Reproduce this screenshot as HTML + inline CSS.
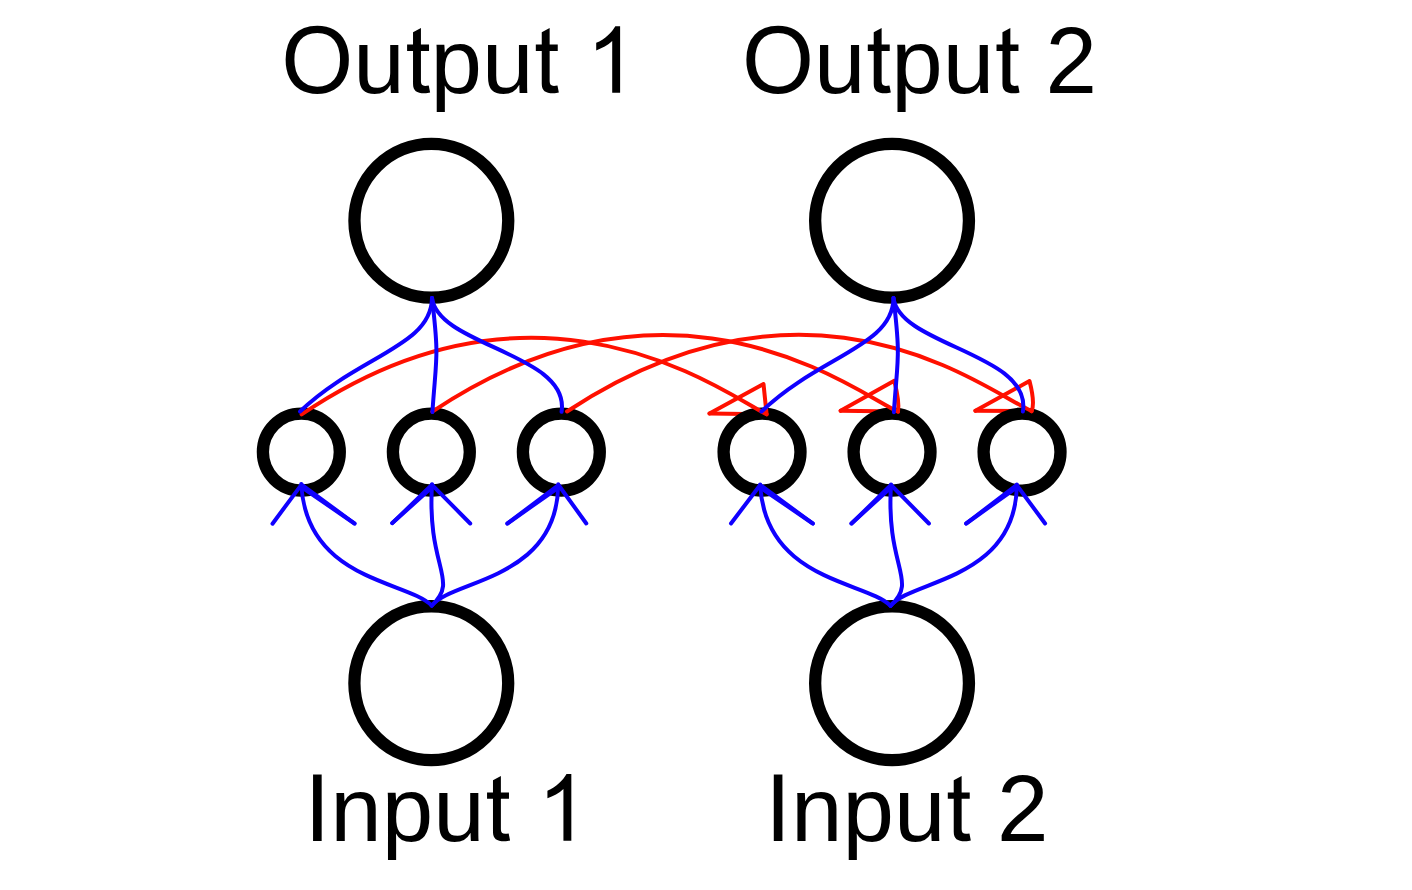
<!DOCTYPE html><html><head><meta charset="utf-8"><style>html,body{margin:0;padding:0;background:#fff;width:1412px;height:890px;overflow:hidden}svg{display:block}text{font-family:"Liberation Sans",sans-serif;fill:#000}</style></head><body>
<svg width="1412" height="890" viewBox="0 0 1412 890">
<rect width="1412" height="890" fill="#fff"/>
<g fill="#000">
<text transform="translate(281.20 92.80) scale(1 1.042)" font-size="92.6">O</text>
<text transform="translate(353.23 92.80) scale(1 0.985)" font-size="92.6">u</text>
<path transform="translate(404.73 92.80)" d="M8.3 -41.9L8.3 -9C8.3 -2 12 0.5 19.5 0.5C22 0.5 24 0.1 25.4 -0.3L24 -7.2C22.5 -7 21.5 -6.9 20.5 -6.9C17.5 -6.9 16.2 -8.5 16.2 -11.5L16.2 -41.9H24.3V-48.2H16.2V-64.8L8.3 -60.5V-48.2H2.37V-41.9Z"/>
<text transform="translate(430.45 92.80) scale(1 0.980)" font-size="92.6">p</text>
<text transform="translate(481.95 92.80) scale(1 0.985)" font-size="92.6">u</text>
<path transform="translate(533.45 92.80)" d="M8.3 -41.9L8.3 -9C8.3 -2 12 0.5 19.5 0.5C22 0.5 24 0.1 25.4 -0.3L24 -7.2C22.5 -7 21.5 -6.9 20.5 -6.9C17.5 -6.9 16.2 -8.5 16.2 -11.5L16.2 -41.9H24.3V-48.2H16.2V-64.8L8.3 -60.5V-48.2H2.37V-41.9Z"/>
<path transform="translate(584.91 92.80)" d="M27.3 0H35.2V-66.6H30.4C27 -60.5 20 -53.5 11.3 -50V-42.4C17 -44.5 23 -47.5 27.3 -51.7Z"/>
<text transform="translate(741.90 92.80) scale(1 1.042)" font-size="92.6">O</text>
<text transform="translate(813.93 92.80) scale(1 0.985)" font-size="92.6">u</text>
<path transform="translate(865.43 92.80)" d="M8.3 -41.9L8.3 -9C8.3 -2 12 0.5 19.5 0.5C22 0.5 24 0.1 25.4 -0.3L24 -7.2C22.5 -7 21.5 -6.9 20.5 -6.9C17.5 -6.9 16.2 -8.5 16.2 -11.5L16.2 -41.9H24.3V-48.2H16.2V-64.8L8.3 -60.5V-48.2H2.37V-41.9Z"/>
<text transform="translate(891.15 92.80) scale(1 0.980)" font-size="92.6">p</text>
<text transform="translate(942.65 92.80) scale(1 0.985)" font-size="92.6">u</text>
<path transform="translate(994.15 92.80)" d="M8.3 -41.9L8.3 -9C8.3 -2 12 0.5 19.5 0.5C22 0.5 24 0.1 25.4 -0.3L24 -7.2C22.5 -7 21.5 -6.9 20.5 -6.9C17.5 -6.9 16.2 -8.5 16.2 -11.5L16.2 -41.9H24.3V-48.2H16.2V-64.8L8.3 -60.5V-48.2H2.37V-41.9Z"/>
<text transform="translate(1045.61 92.80) scale(1 1.029)" font-size="92.6">2</text>
<text transform="translate(304.45 840.70) scale(1 1.047)" font-size="92.6">I</text>
<text transform="translate(330.18 840.70) scale(1 0.990)" font-size="92.6">n</text>
<text transform="translate(381.68 840.70) scale(1 0.980)" font-size="92.6">p</text>
<text transform="translate(433.18 840.70) scale(1 0.985)" font-size="92.6">u</text>
<path transform="translate(484.68 840.70)" d="M8.3 -41.9L8.3 -9C8.3 -2 12 0.5 19.5 0.5C22 0.5 24 0.1 25.4 -0.3L24 -7.2C22.5 -7 21.5 -6.9 20.5 -6.9C17.5 -6.9 16.2 -8.5 16.2 -11.5L16.2 -41.9H24.3V-48.2H16.2V-64.8L8.3 -60.5V-48.2H2.37V-41.9Z"/>
<path transform="translate(536.13 840.70)" d="M27.3 0H35.2V-66.6H30.4C27 -60.5 20 -53.5 11.3 -50V-42.4C17 -44.5 23 -47.5 27.3 -51.7Z"/>
<text transform="translate(765.20 840.70) scale(1 1.047)" font-size="92.6">I</text>
<text transform="translate(790.93 840.70) scale(1 0.990)" font-size="92.6">n</text>
<text transform="translate(842.43 840.70) scale(1 0.980)" font-size="92.6">p</text>
<text transform="translate(893.93 840.70) scale(1 0.985)" font-size="92.6">u</text>
<path transform="translate(945.43 840.70)" d="M8.3 -41.9L8.3 -9C8.3 -2 12 0.5 19.5 0.5C22 0.5 24 0.1 25.4 -0.3L24 -7.2C22.5 -7 21.5 -6.9 20.5 -6.9C17.5 -6.9 16.2 -8.5 16.2 -11.5L16.2 -41.9H24.3V-48.2H16.2V-64.8L8.3 -60.5V-48.2H2.37V-41.9Z"/>
<text transform="translate(996.88 840.70) scale(1 1.029)" font-size="92.6">2</text>
</g>
<g fill="none" stroke="#ff1000" stroke-width="4" stroke-linecap="round" stroke-linejoin="round">
<path d="M709.5 413.5L766.6 414.3"/>
<path d="M840.6 410.8L898.0 411.6"/>
<path d="M975.4 410.8L1031.6 411.1"/>
</g>
<g fill="none" stroke="#000" stroke-width="12.3">
<circle cx="431.35" cy="220.80" r="76.9"/>
<circle cx="892.05" cy="220.80" r="76.9"/>
<circle cx="431.30" cy="683.15" r="76.9"/>
<circle cx="892.05" cy="683.15" r="76.9"/>
<circle cx="301.35" cy="452.10" r="38.45"/>
<circle cx="431.35" cy="452.10" r="38.45"/>
<circle cx="561.35" cy="452.10" r="38.45"/>
<circle cx="762.05" cy="452.10" r="38.45"/>
<circle cx="892.05" cy="452.10" r="38.45"/>
<circle cx="1022.05" cy="452.10" r="38.45"/>
</g>
<g fill="none" stroke="#ff1000" stroke-width="4" stroke-linecap="round" stroke-linejoin="round">
<path d="M301.60 414.40C539.14 253.76 723.42 392.22 766.60 414.30"/>
<path d="M432.30 411.60C675.24 249.44 856.39 392.66 898.00 411.60"/>
<path d="M567.00 411.50C812.18 250.32 985.02 390.05 1031.60 411.10"/>
<path d="M766.6 414.3L763.5 384.0L709.5 413.5"/>
<path d="M898.0 411.6Q899.6 402.0 894.3 380.8L840.6 410.8"/>
<path d="M1031.6 411.1Q1035.2 403.0 1029.5 381.0L975.4 410.8"/>
</g>
<g fill="none" stroke="#1000ff" stroke-width="4" stroke-linecap="round" stroke-linejoin="round">
<path d="M432.00 298.00C431.53 346.44 358.25 355.63 300.00 411.50"/>
<path d="M432.00 298.00C439.35 360.04 436.14 356.46 432.42 412.04"/>
<path d="M432.00 298.00C438.35 346.37 570.56 353.64 561.57 411.85"/>
<path d="M893.50 298.00C893.03 346.44 819.75 355.63 761.50 411.50"/>
<path d="M893.50 298.00C900.80 360.15 897.59 356.58 893.87 412.16"/>
<path d="M893.50 298.00C899.69 345.99 1031.91 353.27 1022.92 411.47"/>
<path d="M431.75 605.60C407.33 580.68 306.18 580.63 301.28 483.98"/>
<path d="M431.75 605.60C459.75 579.47 426.71 568.58 432.03 484.21"/>
<path d="M431.75 605.60C451.57 579.64 557.61 580.36 558.20 484.29"/>
<path d="M890.60 605.80C866.22 581.14 765.07 581.09 760.17 484.43"/>
<path d="M890.60 605.80C918.73 579.64 885.69 568.75 891.01 484.38"/>
<path d="M890.60 605.80C910.22 579.82 1016.26 580.54 1016.86 484.47"/>
<path d="M272.5 523.7L301.5 484.6L354.5 523.5"/>
<path d="M301.5 487.1L354.5 523.5"/>
<path d="M392.3 523.1L432.0 484.8L470.2 523.5"/>
<path d="M432.0 487.3L392.3 523.1"/>
<path d="M507.4 523.5L558.5 485.0L586.3 523.5"/>
<path d="M558.5 487.5L507.4 523.5"/>
<path d="M731.0 523.5L760.2 485.0L812.8 523.5"/>
<path d="M760.2 487.5L812.8 523.5"/>
<path d="M851.5 523.5L891.0 485.0L928.9 523.5"/>
<path d="M891.0 487.5L851.5 523.5"/>
<path d="M966.2 523.5L1016.6 485.0L1045.1 523.5"/>
<path d="M1016.6 487.5L966.2 523.5"/>
</g>
</svg></body></html>
